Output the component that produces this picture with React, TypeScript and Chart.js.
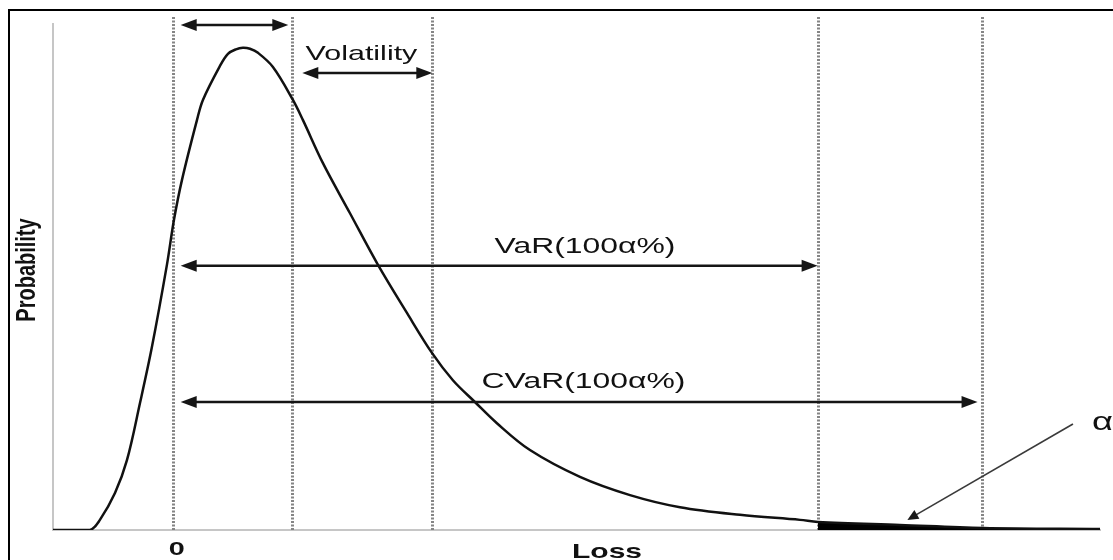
import React, { useEffect, useRef } from 'react';
import { Chart, registerables } from 'chart.js';

Chart.register(...registerables);

// ---- Data (Loss units on x, relative probability density on y) ----
const lossValues = [
  -1.0, -0.691, -0.608, -0.482, -0.382, -0.273, -0.173, -0.048, 0.011, 0.078,
  0.203, 0.253, 0.395, 0.462, 0.529, 0.587, 0.646, 0.713, 0.838, 1.005,
  1.089, 1.256, 1.482, 1.716, 1.958, 2.167, 2.342, 2.526, 2.71, 2.986,
  3.404, 3.822, 4.24, 4.741, 5.243, 5.393, 6.078, 6.772, 7.75,
];
const probValues = [
  0, 0, 0.02, 0.073, 0.138, 0.251, 0.362, 0.524, 0.613, 0.692,
  0.81, 0.85, 0.917, 0.941, 0.95, 0.953, 0.951, 0.943, 0.915, 0.85,
  0.81, 0.725, 0.626, 0.524, 0.429, 0.35, 0.296, 0.253, 0.211, 0.158,
  0.105, 0.069, 0.045, 0.03, 0.02, 0.016, 0.01, 0.004, 0.002,
];
const varLoss = 5.393; // start of alpha tail

// dotted reference lines (Loss units)
const markerLines = [0, 1.0, 2.17, 5.39, 6.76];
const markerTop = 1.014;

// double-headed arrows: from, to (Loss), y (prob)
const arrowFrom = [0, 1.0, 0, 0];
const arrowTo = [1.0, 2.17, 5.39, 6.76];
const arrowY = [0.998, 0.903, 0.522, 0.253];
const arrowInsetL = [8, 10, 8, 8];
const arrowInsetR = [4, 0, 0, 4];

// text labels
const labelTexts = ['Volatility', 'VaR(100\u03b1%)', 'CVaR(100\u03b1%)'];
const labelX = [1.578, 3.446, 3.433];
const labelY = [0.929, 0.547, 0.281];

// alpha pointer
const alphaText = '\u03b1';
const alphaStart = { x: 7.524, y: 0.2095 };
const alphaTip = { x: 6.14, y: 0.02 };
const alphaLabel = { x: 7.683, y: 0.211 };

const xTickValues = [0];
const xTickLabels = ['0'];
const xTitle = 'Loss';
const yTitle = 'Probability';

const FONT = '"Liberation Sans", Arial, Helvetica, sans-serif';
const SX = 1.45;

function stretchedText(
  ctx: CanvasRenderingContext2D,
  text: string,
  x: number,
  y: number,
  font: string,
  align: CanvasTextAlign,
  baseline: CanvasTextBaseline,
  sx: number,
  color: string
) {
  ctx.save();
  ctx.translate(x, y);
  ctx.scale(sx, 1);
  ctx.font = font;
  ctx.fillStyle = color;
  ctx.textAlign = align;
  ctx.textBaseline = baseline;
  ctx.fillText(text, 0, 0);
  ctx.restore();
}

function head(ctx: CanvasRenderingContext2D, tx: number, ty: number, dx: number, dy: number, len: number, hw: number) {
  const bx = tx - dx * len;
  const by = ty - dy * len;
  const px = -dy;
  const py = dx;
  ctx.beginPath();
  ctx.moveTo(tx, ty);
  ctx.lineTo(bx + px * hw, by + py * hw);
  ctx.lineTo(bx - px * hw, by - py * hw);
  ctx.closePath();
  ctx.fill();
}

const annotationPlugin = {
  id: 'riskAnnotations',
  beforeDraw(chart: any) {
    const ctx = chart.ctx as CanvasRenderingContext2D;
    ctx.save();
    ctx.fillStyle = '#ffffff';
    ctx.fillRect(0, 0, chart.width, chart.height);
    ctx.restore();
  },
  beforeDatasetsDraw(chart: any) {
    const ctx = chart.ctx as CanvasRenderingContext2D;
    const xs = chart.scales.x;
    const ys = chart.scales.y;
    ctx.save();
    ctx.strokeStyle = '#858585';
    ctx.lineWidth = 3;
    ctx.setLineDash([2, 1.5]);
    markerLines.forEach((v) => {
      const x = Math.round(xs.getPixelForValue(v)) + 0.5;
      ctx.beginPath();
      ctx.moveTo(x, ys.getPixelForValue(markerTop));
      ctx.lineTo(x, ys.getPixelForValue(0));
      ctx.stroke();
    });
    ctx.restore();
  },
  afterDraw(chart: any) {
    const ctx = chart.ctx as CanvasRenderingContext2D;
    const xs = chart.scales.x;
    const ys = chart.scales.y;
    const area = chart.chartArea;

    // arrows
    ctx.save();
    ctx.strokeStyle = '#151515';
    ctx.fillStyle = '#151515';
    ctx.lineWidth = 2.5;
    for (let i = 0; i < arrowFrom.length; i++) {
      const x1 = xs.getPixelForValue(arrowFrom[i]) + arrowInsetL[i];
      const x2 = xs.getPixelForValue(arrowTo[i]) - arrowInsetR[i];
      const y = ys.getPixelForValue(arrowY[i]);
      ctx.beginPath();
      ctx.moveTo(x1 + 8, y);
      ctx.lineTo(x2 - 8, y);
      ctx.stroke();
      head(ctx, x1, y, -1, 0, 16, 6);
      head(ctx, x2, y, 1, 0, 16, 6);
    }
    ctx.restore();

    // labels
    for (let i = 0; i < labelTexts.length; i++) {
      stretchedText(
        ctx,
        labelTexts[i],
        xs.getPixelForValue(labelX[i]),
        ys.getPixelForValue(labelY[i]),
        `${i === 0 ? 21 : 22}px ${FONT}`,
        'center',
        'alphabetic',
        SX,
        '#111'
      );
    }

    // alpha pointer
    ctx.save();
    const sx0 = xs.getPixelForValue(alphaStart.x);
    const sy0 = ys.getPixelForValue(alphaStart.y);
    const tx = xs.getPixelForValue(alphaTip.x);
    const ty = ys.getPixelForValue(alphaTip.y);
    const len = Math.hypot(tx - sx0, ty - sy0);
    const ux = (tx - sx0) / len;
    const uy = (ty - sy0) / len;
    ctx.strokeStyle = '#3a3a3a';
    ctx.fillStyle = '#1a1a1a';
    ctx.lineWidth = 1.6;
    ctx.beginPath();
    ctx.moveTo(sx0, sy0);
    ctx.lineTo(tx - ux * 6, ty - uy * 6);
    ctx.stroke();
    head(ctx, tx, ty, ux, uy, 11, 5);
    ctx.restore();
    stretchedText(
      ctx,
      alphaText,
      xs.getPixelForValue(alphaLabel.x),
      ys.getPixelForValue(alphaLabel.y),
      `25px ${FONT}`,
      'left',
      'middle',
      SX,
      '#111'
    );

    // x tick labels
    xTickValues.forEach((v, i) => {
      stretchedText(ctx, xTickLabels[i], xs.getPixelForValue(v) + 4, area.bottom + 25, `bold 18px ${FONT}`, 'center', 'alphabetic', 1.6, '#111');
    });

    // axis titles
    stretchedText(ctx, xTitle, xs.getPixelForValue(3.63), area.bottom + 28, `bold 21px ${FONT}`, 'center', 'alphabetic', 1.43, '#111');

    ctx.save();
    ctx.translate(area.left - 26, (area.top + area.bottom) / 2 - 7);
    ctx.scale(1.4, 1);
    ctx.rotate(-Math.PI / 2);
    ctx.font = `bold 20px ${FONT}`;
    ctx.fillStyle = '#111';
    ctx.textAlign = 'center';
    ctx.textBaseline = 'middle';
    ctx.fillText(yTitle, 0, 0);
    ctx.restore();

    // outer frame
    ctx.save();
    ctx.strokeStyle = '#000';
    ctx.lineWidth = 2;
    ctx.strokeRect(9, 10, chart.width + 20, chart.height + 20);
    ctx.restore();
  },
};

export default function App() {
  const ref = useRef<HTMLCanvasElement>(null);

  useEffect(() => {
    const curve = lossValues.map((x, i) => ({ x, y: probValues[i] }));
    const tail = curve.filter((p) => p.x >= varLoss);
    const chart = new Chart(ref.current as HTMLCanvasElement, {
      type: 'scatter',
      data: {
        datasets: [
          {
            label: 'Loss distribution',
            data: curve,
            showLine: true,
            borderColor: '#111111',
            borderWidth: 2.5,
            pointRadius: 0,
            tension: 0.35,
            fill: false,
          } as any,
          {
            label: 'Tail (alpha)',
            data: tail,
            showLine: true,
            borderColor: '#000000',
            borderWidth: 0,
            backgroundColor: '#000000',
            pointRadius: 0,
            tension: 0.35,
            fill: 'origin',
          } as any,
        ],
      },
      options: {
        responsive: false,
        animation: false,
        devicePixelRatio: 1,
        layout: { padding: { left: 53, right: 13, top: 24, bottom: 30 } },
        plugins: {
          legend: { display: false },
          tooltip: { enabled: false },
        },
        scales: {
          x: {
            type: 'linear',
            min: -1,
            max: 7.75,
            grid: { display: false, drawTicks: false },
            ticks: { display: false },
            border: { display: true, color: '#c6c6c6', width: 2 },
          },
          y: {
            type: 'linear',
            min: 0,
            max: 1,
            grid: { display: false, drawTicks: false },
            ticks: { display: false },
            border: { display: true, color: '#c6c6c6', width: 2 },
          },
        },
      },
      plugins: [annotationPlugin],
    });
    return () => chart.destroy();
  }, []);

  return (
    <div style={{ position: 'absolute', left: 0, top: 0, width: 1113, height: 560, background: '#fff' }}>
      <canvas ref={ref} width={1113} height={560} style={{ display: 'block' }} />
    </div>
  );
}
